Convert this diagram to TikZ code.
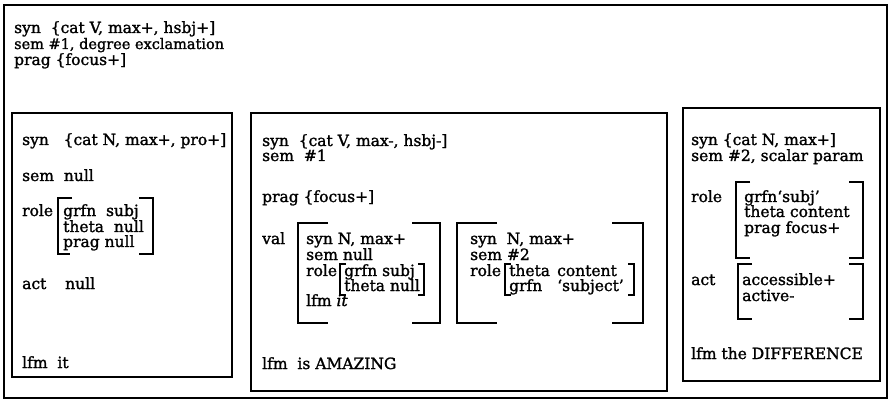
\documentclass[tikz,border=0pt]{standalone}
\usepackage{fontspec}
\setmainfont{DejaVu Serif}[FakeBold=1.5]
\begin{document}
\begin{tikzpicture}[x=1pt,y=-1pt,
    txt/.style={anchor=base west, inner sep=0pt, font=\fontsize{15.5}{16}\selectfont},
    box/.style={line width=1.5pt},
    brk/.style={line width=1.2pt}]
    \useasboundingbox (0,0) rectangle (895,401);

    % Outer frame and its three lines
    \draw[box] (4,5) rectangle (887,398);
    \node[txt] (osyn) at (14,33) {syn\ \ \{cat V,\ max+,\ hsbj+]};
    \node[txt, font=\fontsize{14.5}{15}\selectfont] (osem) at (14,49) {sem \#1, degree exclamation};
    \node[txt] (oprag) at (14,65) {prag \{focus+]};

    % Left box
    \draw[box] (12,113) rectangle (232,377);
    \node[txt] (lsyn) at (22,145) {syn\ \ \ \{cat N, max+, pro+]};
    \node[txt] (lsem) at (22,181) {sem~ null};
    \node[txt] (lrole) at (22,216) {role};
    \node[txt] (lgrfn) at (63,216) {grfn~ subj};
    \node[txt] (ltheta) at (63,232) {theta~ null};
    \node[txt] (lprag) at (63,247) {prag null};
    \draw[brk] (72,198) -- (58,198) -- (58,254) -- (70,254);
    \draw[brk] (139,198) -- (153,198) -- (153,254) -- (139,254);
    \node[txt] (lact) at (22,289) {act};
    \node[txt] (lnull) at (65,289) {null};
    \node[txt] (llfm) at (22,368) {lfm~ it};

    % Middle box
    \draw[box] (251,113) rectangle (667,391);
    \node[txt] (msyn) at (262,146) {syn~ \{cat V, max-, hsbj-]};
    \node[txt] (msem) at (262,161) {sem~ \#1};
    \node[txt] (mprag) at (262,202) {prag \{focus+]};
    \node[txt] (mval) at (262,244) {val};
    \draw[brk] (328,223) -- (298,223) -- (298,323) -- (328,323);
    \draw[brk] (412,223) -- (440,223) -- (440,323) -- (412,323);
    \node[txt] (vsyn) at (306,244) {syn N, max+};
    \node[txt] (vsem) at (306,260) {sem null};
    \node[txt] (vrole) at (306,276) {role};
    \node[txt] (vgrfn) at (344,276) {grfn subj};
    \node[txt] (vtheta) at (344,291) {theta null};
    \node[txt] (vlfm) at (306,306) {lfm \textit{it}};
    \draw[brk] (346,264) -- (340,264) -- (340,295) -- (346,295);
    \draw[brk] (418,264) -- (424,264) -- (424,295) -- (418,295);
    \draw[brk] (497,223) -- (457,223) -- (457,323) -- (497,323);
    \draw[brk] (612,223) -- (643,223) -- (643,323) -- (612,323);
    \node[txt] (wsyn) at (470,244) {syn~ N, max+};
    \node[txt] (wsem) at (470,260) {sem \#2};
    \node[txt] (wrole) at (470,276) {role};
    \node[txt] (wtheta) at (509,276) {theta};
    \node[txt] (wcont) at (557,276) {content};
    \node[txt] (wgrfn) at (509,291) {grfn};
    \node[txt] (wsubj) at (557,291) {`subject'};
    \draw[brk] (511,264) -- (505,264) -- (505,295) -- (511,295);
    \draw[brk] (628,264) -- (634,264) -- (634,295) -- (628,295);
    \node[txt] (mlfm) at (262,369) {lfm~ is AMAZING};

    % Right box
    \draw[box] (683,108) rectangle (880,381);
    \node[txt] (rsyn) at (691,145) {syn \{cat N, max+]};
    \node[txt] (rsem) at (691,161) {sem \#2, scalar param};
    \node[txt] (rrole) at (691,202) {role};
    \node[txt] (rgrfn) at (744,202) {grfn`subj'};
    \node[txt] (rtheta) at (744,217) {theta content};
    \node[txt] (rprag) at (744,233) {prag focus+};
    \draw[brk] (750,182) -- (736,182) -- (736,258) -- (750,258);
    \draw[brk] (849,182) -- (863,182) -- (863,258) -- (849,258);
    \node[txt] (ract) at (691,285) {act};
    \node[txt] (racc) at (742,285) {accessible+};
    \node[txt] (ractive) at (742,301) {active-};
    \draw[brk] (752,264) -- (738,264) -- (738,319) -- (752,319);
    \draw[brk] (849,264) -- (863,264) -- (863,319) -- (849,319);
    \node[txt] (rlfm) at (691,359) {lfm the DIFFERENCE};
\end{tikzpicture}
\end{document}
